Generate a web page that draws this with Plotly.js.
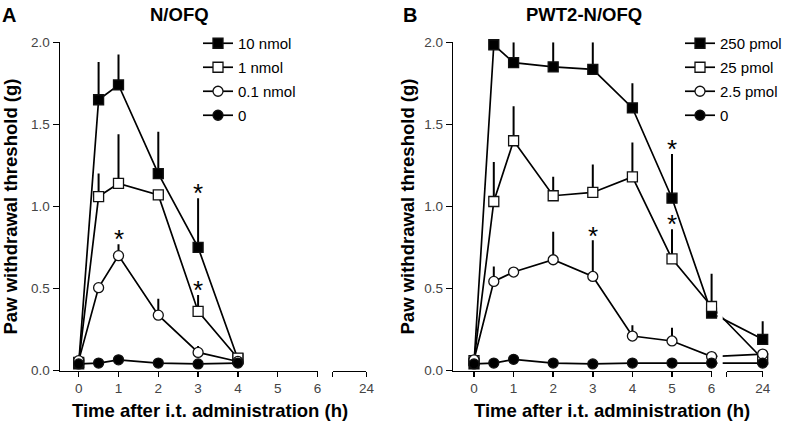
<!DOCTYPE html>
<html><head><meta charset="utf-8">
<script src="https://cdn.plot.ly/plotly-3.0.1.min.js"></script>
<style>html,body{margin:0;padding:0;background:#fff}#chart{width:788px;height:425px}</style>
</head><body><div id="chart"></div>
<script>
// ---------- DATA ----------
// Panel A: N/OFQ
const timeA = [0, 0.5, 1, 2, 3, 4];
const nmol10 = [0.04, 1.65, 1.74, 1.20, 0.75, 0.07];
const nmol10Err = [0, 0.23, 0.185, 0.255, 0.30, 0];
const nmol1 = [0.05, 1.06, 1.14, 1.07, 0.36, 0.075];
const nmol1Err = [0, 0.14, 0.30, 0, 0.10, 0];
const nmol01 = [0.06, 0.505, 0.70, 0.337, 0.11, 0.055];
const nmol01Err = [0, 0, 0.07, 0.10, 0.04, 0];
const zeroA = [0.04, 0.045, 0.065, 0.045, 0.04, 0.045];
const namesA = ['10 nmol', '1 nmol', '0.1 nmol', '0'];
const starTimeA = [3, 3, 1];
const starValA = [1.05, 0.46, 0.77];

// Panel B: PWT2-N/OFQ
const timeB = [0, 0.5, 1, 2, 3, 4, 5, 6, 24];
const pmol250 = [0.04, 1.985, 1.876, 1.85, 1.835, 1.60, 1.05, 0.35, 0.19];
const pmol250Err = [0, 0, 0.125, 0.15, 0.165, 0.15, 0.27, 0, 0.11];
const pmol25 = [0.06, 1.03, 1.40, 1.065, 1.085, 1.18, 0.68, 0.39, 0.07];
const pmol25Err = [0, 0.24, 0.21, 0.115, 0.17, 0.21, 0.18, 0.20, 0];
const pmol2_5 = [0.065, 0.543, 0.60, 0.675, 0.573, 0.21, 0.18, 0.085, 0.10];
const pmol2_5Err = [0, 0.09, 0, 0.17, 0.22, 0.065, 0.08, 0, 0];
const zeroB = [0.04, 0.045, 0.068, 0.045, 0.04, 0.045, 0.045, 0.045, 0.045];
const namesB = ['250 pmol', '25 pmol', '2.5 pmol', '0'];
const starTimeB = [5, 5, 3];
const starValB = [1.32, 0.86, 0.79];

const xTickVals = [0, 1, 2, 3, 4, 5, 6];
const xTickText = ['0', '1', '2', '3', '4', '5', '6'];
const breakLabel = '24';
const yTickVals = [0, 0.5, 1, 1.5, 2];
const yTickText = ['0.0', '0.5', '1.0', '1.5', '2.0'];

// ---------- LAYOUT HELPERS ----------
const W = 788, H = 425;
const FONT = 'Liberation Sans, Arial, Helvetica, sans-serif';
const yDom = [(H - 370.5) / H, (H - 42.3) / H];
const PA = {px0: 60, px1: 370, zeroPx: 78.7, scale: 39.8, breakPos: 7.23, capPos: 6.38};
const PB = {px0: 453.3, px1: 766, zeroPx: 474, scale: 39.6, breakPos: 7.29, capPos: 6.38};
const rangeOf = p => [(p.px0 - p.zeroPx) / p.scale, (p.px1 - p.zeroPx) / p.scale];
const pos = (t, p) => (t <= 6 ? t : p.breakPos);
const toPaper = (v, p) => (p.zeroPx + v * p.scale) / W;

const styles = [
  {symbol: 'square', size: 10, fill: '#000'},
  {symbol: 'square', size: 10, fill: '#fff'},
  {symbol: 'circle', size: 10, fill: '#fff'},
  {symbol: 'circle', size: 10, fill: '#000'}
];

function series(name, times, vals, errs, st, xa, ya, leg, p) {
  return {
    type: 'scatter', mode: 'lines+markers', name: name,
    x: times.map(t => pos(t, p)), y: vals,
    xaxis: xa, yaxis: ya, legend: leg, legendgroup: leg + name,
    line: {color: '#000', width: 1.7},
    marker: {symbol: st.symbol, size: st.size, color: st.fill, line: {color: '#111', width: 1.3}},
    error_y: {type: 'data', array: errs, arrayminus: errs.map(() => 0), symmetric: false,
              color: '#000', thickness: 2, width: 0},
    cliponaxis: false, hoverinfo: 'skip'
  };
}

const dataA = [[nmol10, nmol10Err], [nmol1, nmol1Err], [nmol01, nmol01Err], [zeroA, zeroA.map(() => 0)]];
const dataB = [[pmol250, pmol250Err], [pmol25, pmol25Err], [pmol2_5, pmol2_5Err], [zeroB, zeroB.map(() => 0)]];

const traces = [];
// empty carriers so the broken x-axis line segments (axes x3..x6) get drawn
['x3', 'x4'].forEach(a => traces.push({type: 'scatter', x: [], y: [], xaxis: a, yaxis: 'y', showlegend: false, hoverinfo: 'skip'}));
['x5', 'x6'].forEach(a => traces.push({type: 'scatter', x: [], y: [], xaxis: a, yaxis: 'y2', showlegend: false, hoverinfo: 'skip'}));
dataA.forEach((d, i) => traces.push(series(namesA[i], timeA, d[0], d[1], styles[i], 'x', 'y', 'legend', PA)));
dataB.forEach((d, i) => traces.push(series(namesB[i], timeB, d[0], d[1], styles[i], 'x2', 'y2', 'legend2', PB)));

const tickFont = {family: FONT, size: 13.5, color: '#444'};
function xAxis(p, anchor) {
  return {
    domain: [p.px0 / W, p.px1 / W], range: rangeOf(p), anchor: anchor,
    showline: false, showgrid: false, zeroline: false,
    ticks: 'outside', ticklen: 5, tickwidth: 1.5, tickcolor: '#000',
    tickmode: 'array', tickvals: xTickVals.concat([p.capPos, p.breakPos]),
    ticktext: xTickText.concat(['', breakLabel]), tickfont: tickFont, fixedrange: true
  };
}
function yAxis(anchor) {
  return {
    domain: yDom, range: [0, 2], anchor: anchor,
    showline: true, linewidth: 1.5, linecolor: '#000', showgrid: false, zeroline: false,
    ticks: 'outside', ticklen: 6, tickwidth: 1.5, tickcolor: '#000',
    tickmode: 'array', tickvals: yTickVals, ticktext: yTickText, tickfont: tickFont, fixedrange: true
  };
}
function segAxis(d0, d1, anchor) {
  return {
    domain: [d0, d1], range: [0, 1], anchor: anchor, showline: true, linewidth: 1.5, linecolor: '#000',
    showgrid: false, zeroline: false, ticks: '', showticklabels: false, fixedrange: true
  };
}

const titleFont = {family: FONT, size: 18.5, color: '#000', weight: 'bold'};
function ann(text, x, y, extra) {
  return Object.assign({text: text, x: x, y: y, xref: 'paper', yref: 'paper', showarrow: false,
    xanchor: 'center', yanchor: 'middle', font: titleFont}, extra || {});
}
const annotations = [
  ann('<b>A</b>', 9 / W, 1 - 15 / H, {font: Object.assign({}, titleFont, {size: 20})}),
  ann('<b>N/OFQ</b>', 179.5 / W, 1 - 15 / H),
  ann('<b>B</b>', 410 / W, 1 - 15 / H, {font: Object.assign({}, titleFont, {size: 20})}),
  ann('<b>PWT2-N/OFQ</b>', 583.5 / W, 1 - 15 / H),
  ann('<b>Paw withdrawal threshold (g)</b>', 10 / W, 1 - 206.5 / H, {textangle: -90}),
  ann('<b>Paw withdrawal threshold (g)</b>', 407 / W, 1 - 206.5 / H, {textangle: -90}),
  ann('<b>Time after i.t. administration (h)</b>', 210 / W, 1 - 410 / H),
  ann('<b>Time after i.t. administration (h)</b>', 611.5 / W, 1 - 410 / H)
];
const starFont = {family: FONT, size: 26, color: '#000'};
starTimeA.forEach((t, i) => annotations.push({text: '*', x: pos(t, PA), y: starValA[i], xref: 'x', yref: 'y',
  showarrow: false, xanchor: 'center', yanchor: 'middle', yshift: 5, font: starFont}));
starTimeB.forEach((t, i) => annotations.push({text: '*', x: pos(t, PB), y: starValB[i], xref: 'x2', yref: 'y2',
  showarrow: false, xanchor: 'center', yanchor: 'middle', yshift: 5, font: starFont}));

const legendBase = {xanchor: 'left', yanchor: 'top', bgcolor: 'rgba(0,0,0,0)', borderwidth: 0,
  font: {family: FONT, size: 15, color: '#000'}, tracegroupgap: 1.5, itemclick: false, itemdoubleclick: false};

const layout = {
  width: W, height: H, margin: {l: 0, r: 0, t: 0, b: 0},
  paper_bgcolor: '#fff', plot_bgcolor: 'rgba(0,0,0,0)', showlegend: true,
  xaxis: xAxis(PA, 'y'), yaxis: yAxis('x'),
  xaxis2: xAxis(PB, 'y2'), yaxis2: yAxis('x2'),
  xaxis3: segAxis(PA.px0 / W, toPaper(6, PA), 'y'),
  xaxis4: segAxis(toPaper(PA.capPos, PA), toPaper(PA.breakPos, PA), 'y'),
  xaxis5: segAxis(PB.px0 / W, toPaper(6, PB), 'y2'),
  xaxis6: segAxis(toPaper(PB.capPos, PB), toPaper(PB.breakPos, PB), 'y2'),
  legend: Object.assign({}, legendBase, {x: 198 / W, y: 1 - 27 / H}),
  legend2: Object.assign({}, legendBase, {x: 680 / W, y: 1 - 27 / H}),
  shapes: [{type: 'rect', xref: 'x2', yref: 'y2', x0: 6.15, x1: 6.28, y0: 0.012, y1: 0.5,
            fillcolor: '#fff', line: {width: 0}, layer: 'above'}],
  annotations: annotations
};

Plotly.newPlot('chart', traces, layout, {staticPlot: true, displayModeBar: false});
</script></body></html>
